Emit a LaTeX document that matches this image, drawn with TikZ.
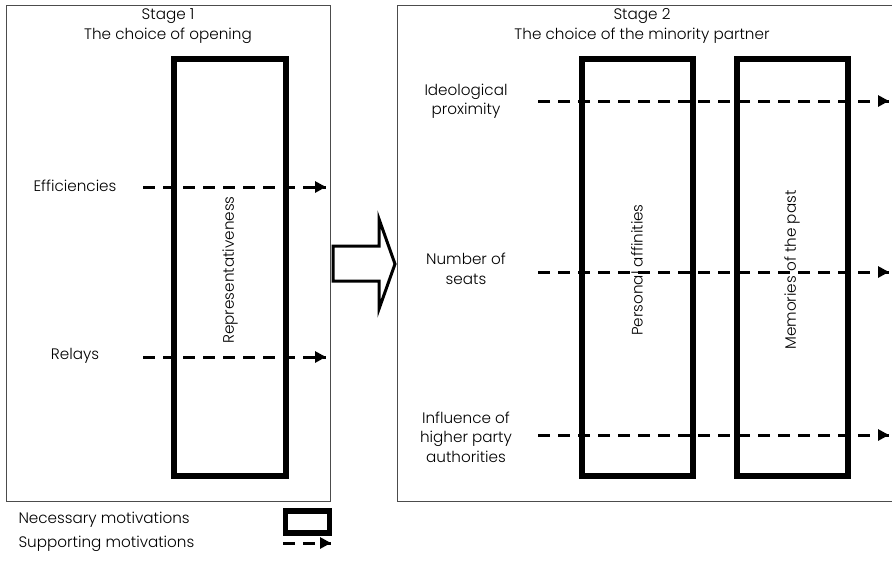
\documentclass[tikz,border=0pt]{standalone}
\usepackage{fontspec}
\setmainfont{Poppins Light}
\usetikzlibrary{arrows.meta,
                 decorations.markings}
\tikzset{stagebox/.style = {draw=black!70, line width=1pt},
         necessary/.style = {draw, line width=5.5pt, line join=miter},
         supporting/.style = {line width=3pt, dash pattern=on 12pt off 8pt,
             decoration={markings, mark=at position 1 with {\arrow{Triangle[length=11pt,width=11pt]}}}, postaction={decorate}},
         motive/.style = {align=center, font=\fontsize{15.2}{19.5}\selectfont},
         factor/.style = {rotate=90, font=\fontsize{15.2}{19.5}\selectfont}}

\begin{document}
\begin{tikzpicture}[x=1pt,y=-1pt]
\useasboundingbox (0,0) rectangle (892,565);
\draw [stagebox] (6,5) rectangle (330,501);
\draw [stagebox] (892,5) -- (397,5) -- (397,501) -- (892,501);
\node [motive] (s1) at (168,26) {Stage 1\\The choice of opening};
\node [motive] (s2) at (642,26) {Stage 2\\The choice of the minority partner};

\draw [necessary] (174,59) rectangle (286,476);
\node [factor] (repr) at (230,270) {Representativeness};
\node [motive] (eff) at (75,186) {Efficiencies};
\node [motive] (rel) at (75,356) {Relays};
\coordinate (eff0) at (143,187); \coordinate (eff1) at (326,187);
\coordinate (rel0) at (143,357); \coordinate (rel1) at (326,357);
\draw [supporting] (eff0) -- (eff1);
\draw [supporting] (rel0) -- (rel1);

\draw [line width=3pt, line join=miter] (333,246) -- (379,246) -- (379,219) -- (395,264) -- (379,309) -- (379,281) -- (333,281) -- cycle;

\draw [necessary] (582,59) rectangle (693,476);
\draw [necessary] (737,59) rectangle (848,476);
\node [factor] (aff) at (637,270) {Personal affinities};
\node [factor] (mem) at (792,270) {Memories of the past};
\node [motive] (ideo) at (466,101) {Ideological\\proximity};
\node [motive] (seat) at (466,269) {Number of\\seats};
\node [motive] (infl) at (466,437) {Influence of\\higher party\\authorities};
\coordinate (ideo0) at (538,101); \coordinate (ideo1) at (889,101);
\coordinate (seat0) at (538,272); \coordinate (seat1) at (889,272);
\coordinate (infl0) at (538,435); \coordinate (infl1) at (889,435);
\draw [supporting] (ideo0) -- (ideo1);
\draw [supporting] (seat0) -- (seat1);
\draw [supporting] (infl0) -- (infl1);

\node [motive, anchor=west] (nec) at (15,520) {Necessary motivations};
\node [motive, anchor=west] (sup) at (15,544) {Supporting motivations};
\draw [necessary] (285.5,511) rectangle (329.5,533);
\coordinate (leg0) at (283,543); \coordinate (leg1) at (331,543);
\draw [supporting] (leg0) -- (leg1);
\end{tikzpicture}
\end{document}
